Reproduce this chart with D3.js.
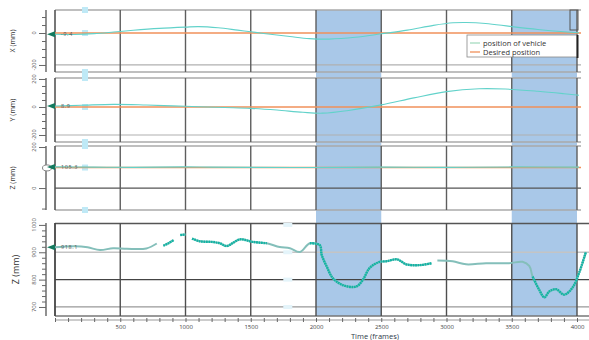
<!DOCTYPE html>
<html>
<head>
<meta charset="utf-8">
<script src="https://cdn.jsdelivr.net/npm/d3@7"></script>
<style>
body { margin: 0; background: #fff; }
svg text { font-family: 'Open Sans', 'Noto Sans', sans-serif; }
</style>
</head>
<body>
<div id="chart"></div>
<script>
// ---- data (frames on x, mm on y) ----
const xGridFrames = [500, 1000, 1500, 2000, 2500, 3000, 3500, 4000]
const xTickLabels = ['500', '1000', '1500', '2000', '2500', '3000', '3500', '4000']
const shadedBands = [[2000, 2500], [3500, 4000]]

const xPosFrames = [0, 150, 300, 450, 600, 800, 1000, 1100, 1250, 1400, 1500, 1650, 1800, 1950, 2100, 2300, 2500, 2700, 2900, 3050, 3150, 3300, 3500, 3700, 3900, 4015]
const xPosValues = [-8, -9, -4, 6, 17, 29, 37, 40, 33, 18, 8, -8, -22, -35, -38, -27, -5, 18, 48, 64, 66, 60, 40, 22, 8, 2]
const xDesired = 0

const yPosFrames = [0, 200, 450, 700, 900, 1100, 1300, 1500, 1700, 1900, 2050, 2250, 2500, 2750, 3000, 3250, 3450, 3700, 3900, 4015]
const yPosValues = [7, 12, 19, 14, 8, 2, -4, -10, -22, -38, -44, -25, 15, 65, 110, 130, 128, 112, 95, 84]
const yDesired = 0

const zPosFrames = [0, 300, 600, 1000, 1200, 1500, 2000, 2500, 3000, 3500, 4015]
const zPosValues = [103, 102, 101, 103, 102, 101, 100, 102, 101, 103, 102]
const zDesired = 100

const zFullFrames = [0, 60, 150, 250, 345, 445, 550, 700, 780, 805,
    830, 870, 910, 935, 960, 1000, 1025,
    1050, 1110, 1200, 1263, 1316, 1416, 1516, 1623, 1722, 1800, 1876, 1953, 2029, 2044, 2082, 2128, 2205, 2310, 2360, 2410, 2487, 2540, 2622, 2691, 2793, 2885, 2908,
    2930, 3047, 3150, 3303, 3480, 3583, 3634, 3660, 3710, 3750, 3788, 3840, 3902, 3966, 4017, 4068]
const zFullValues = [918, 920, 922, 918, 908, 915, 913, 914, 932, null,
    924, 933, 945, null, 963, 965, null,
    950, 940, 938, 933, 923, 947, 938, 933, 919, 915, 901, 933, 926, 890, 848, 806, 780, 775, 800, 842, 865, 867, 874, 856, 853, 860, null,
    870, 867, 856, 860, 860, 865, 850, 811, 763, 735, 757, 765, 745, 771, 826, 901]
const zDenseRanges = [[780, 1000], [1050, 1650], [1950, 2540], [2560, 2890], [3640, 4068]]

const startLabels = ['-9.4', '8.9', '105.3', '918.1']
const legendLabels = ['position of vehicle', 'Desired position']

// ---- layout ----
const width = 589, height = 340
const plotLeft = 55, axisX = 46
const vehicleColor = '#62d2ca', desiredColor = '#f0905a'

const svg = d3.select('#chart').append('svg').attr('width', width).attr('height', height)

const xTop = d3.scaleLinear().domain([0, 4000]).range([plotLeft, 577])
const topRight = 581, bottomRight = 589

const panels = [
    { title: 'X (mm)', top: 10, bottom: 72, domain: [-244, 144], minor: d3.range(-200, 101, 50), major: [0, -200], labels: ['0', '-200'],
      grid: [{ v: -200, c: '#b0b0b0' }], frames: xPosFrames, values: xPosValues, desired: xDesired },
    { title: 'Y (mm)', top: 78, bottom: 142, domain: [-250, 207], minor: d3.range(-200, 201, 50), major: [200, 0, -200], labels: ['200', '0', '-200'],
      grid: [{ v: -200, c: '#b0b0b0' }], frames: yPosFrames, values: yPosValues, desired: yDesired },
    { title: 'Z (mm)', top: 146, bottom: 210, domain: [-107, 205], minor: [200, 100, 0, -100], major: [200, 0], labels: ['200', '0'],
      grid: [{ v: 0, c: '#555' }], frames: zPosFrames, values: zPosValues, desired: zDesired, circle: true },
]

function drawLine(x1, x2, y1, y2, color, w) {
    svg.append('line').attr('x1', x1).attr('x2', x2).attr('y1', y1).attr('y2', y2)
        .style('stroke', color).style('stroke-width', w)
}

// blue shaded frame ranges behind everything
for (let b of shadedBands) {
    svg.append('rect').attr('x', xTop(b[0])).attr('y', 10)
        .attr('width', xTop(b[1]) - xTop(b[0])).attr('height', 306)
        .style('fill', '#a9c8e8')
}

function drawYAxis(y, p, fontSize) {
    const g = svg.append('g').attr('transform', 'translate(' + axisX + ',0)')
    g.call(d3.axisLeft(y).tickValues(p.minor).tickSize(4).tickFormat(''))
    g.select('.domain').attr('d', 'M0,' + p.top + 'V' + p.bottom).style('stroke', '#555').style('stroke-width', 1.3)
    g.selectAll('.tick line').style('stroke', '#666')
    g.selectAll('.tick').filter(d => p.major.includes(d)).select('line').attr('x2', -7)
    p.major.forEach((v, i) => {
        g.append('text').attr('transform', 'translate(-10,' + y(v) + ') rotate(-90)')
            .attr('text-anchor', 'middle').attr('font-size', fontSize).style('fill', '#555').text(p.labels[i])
    })
    svg.append('text').attr('transform', 'translate(' + p.titleX + ',' + (p.top + p.bottom) / 2 + ') rotate(-90)')
        .attr('text-anchor', 'middle').attr('font-size', p.titleSize).style('fill', '#333').text(p.title)
}

function drawStartMarker(y, v, label, circle) {
    if (circle) {
        svg.append('ellipse').attr('cx', axisX + 1).attr('cy', y(v) + 1).attr('rx', 4.5).attr('ry', 3)
            .style('fill', '#fff').style('stroke', '#888')
    }
    svg.append('path').attr('d', 'M' + (axisX + 1) + ',' + y(v) + 'L' + plotLeft + ',' + (y(v) - 3) + 'L' + plotLeft + ',' + (y(v) + 3) + 'Z')
        .style('fill', '#137a5e')
    svg.append('text').attr('x', plotLeft + 6).attr('y', y(v) + 2).attr('font-size', 5.5)
        .style('fill', '#555').style('letter-spacing', '0.6px').text(label)
}

// ---- top three panels ----
panels.forEach((p, i) => {
    const y = d3.scaleLinear().domain(p.domain).range([p.bottom, p.top])
    drawLine(plotLeft, topRight, p.top, p.top, '#aaa', 1.5)
    drawLine(plotLeft, topRight, p.bottom, p.bottom, '#aaa', 1.5)
    for (let gl of p.grid) drawLine(plotLeft, topRight, y(gl.v), y(gl.v), gl.c, 1.2)
    for (let f of xGridFrames) drawLine(xTop(f), xTop(f), p.top, p.bottom, '#5e5e5e', 1.4)
    drawLine(plotLeft, plotLeft, p.top, p.bottom, '#555', 1.6)

    // light cursor marks at frame 230
    const cx = xTop(230)
    for (let yy of [p.top, y(p.desired), p.bottom]) {
        svg.append('rect').attr('x', cx - 3).attr('y', yy - 3).attr('width', 6).attr('height', 6).style('fill', '#bfe9f6')
    }

    svg.append('line').attr('x1', plotLeft).attr('x2', topRight).attr('y1', y(p.desired)).attr('y2', y(p.desired))
        .style('stroke', desiredColor).style('stroke-width', 1.4)

    const pts = p.frames.map((f, k) => [f, p.values[k]])
    const line = d3.line().x(d => xTop(d[0])).y(d => y(d[1])).curve(d3.curveCatmullRom)
    svg.append('path').attr('d', line(pts)).style('fill', 'none').style('stroke', vehicleColor).style('stroke-width', 1.1)

    p.titleX = 15
    p.titleSize = 7
    drawYAxis(y, p, 5.5)
    drawStartMarker(y, p.values[0], startLabels[i], p.circle)
})

// ---- bottom panel: full Z ----
const bottomPanel = { title: 'Z (mm)', top: 223, bottom: 316, domain: [667, 1007], minor: d3.range(700, 1001, 20), major: [1000, 900, 800, 700],
    labels: ['1000', '900', '800', '700'], titleX: 19, titleSize: 9 }
const xBottom = d3.scaleLinear().domain([0, 4000]).range([plotLeft, 577])
const yBottom = d3.scaleLinear().domain(bottomPanel.domain).range([bottomPanel.bottom, bottomPanel.top])

drawLine(plotLeft, bottomRight, yBottom(1000) - 1.5, yBottom(1000) - 1.5, '#555', 1.5)
drawLine(plotLeft, bottomRight, yBottom(900), yBottom(900), '#c4c4c4', 1.4)
drawLine(plotLeft, bottomRight, yBottom(800), yBottom(800), '#444', 1.3)
drawLine(plotLeft, bottomRight, yBottom(700), yBottom(700), '#999', 1.2)
drawLine(plotLeft, bottomRight, bottomPanel.bottom, bottomPanel.bottom, '#777', 1.4)
for (let f of xGridFrames) drawLine(xBottom(f), xBottom(f), bottomPanel.top, bottomPanel.bottom, '#4e4e4e', 1.4)
drawLine(plotLeft, plotLeft, bottomPanel.top, bottomPanel.bottom, '#444', 1.8)

// cursor gaps at frame 1780
for (let v of [1000, 900, 800, 700]) {
    svg.append('rect').attr('x', xBottom(1780) - 4).attr('y', yBottom(v) - 2).attr('width', 9).attr('height', 4).style('fill', '#e4f4fa')
}

const zPts = zFullFrames.map((f, k) => ({ f: f, v: zFullValues[k] }))
const inDense = f => zDenseRanges.some(r => f >= r[0] && f <= r[1])
const zLine = d3.line().defined(d => d.v != null).x(d => xBottom(d.f)).y(d => yBottom(d.v)).curve(d3.curveCatmullRom)
svg.append('path').attr('d', zLine(zPts)).style('fill', 'none').style('stroke', '#84bfba').style('stroke-width', 2)
const zDense = d3.line().defined(d => d.v != null && inDense(d.f)).x(d => xBottom(d.f)).y(d => yBottom(d.v)).curve(d3.curveCatmullRom)
svg.append('path').attr('d', zDense(zPts)).style('fill', 'none').style('stroke', '#12b4a4')
    .style('stroke-width', 2.4).style('stroke-dasharray', '1.8 0.6')

drawYAxis(yBottom, bottomPanel, 6)
drawStartMarker(yBottom, zFullValues[0], startLabels[3], false)

// ---- x axis ----
const xAxisG = svg.append('g').attr('transform', 'translate(0,320)')
xAxisG.call(d3.axisBottom(xBottom).tickValues(d3.range(0, 4001, 100)).tickSize(2).tickPadding(2.5)
    .tickFormat(d => (d > 0 && d % 500 === 0) ? xTickLabels[d / 500 - 1] : ''))
xAxisG.select('.domain').attr('d', 'M' + plotLeft + ',0H' + bottomRight).style('stroke', '#999')
xAxisG.selectAll('.tick line').attr('y1', -2).style('stroke', '#666')
xAxisG.selectAll('.tick text').attr('font-size', 6).style('fill', '#444')
svg.append('text').attr('x', 375).attr('y', 338.5).attr('text-anchor', 'middle').attr('font-size', 7.5)
    .style('fill', '#2e3a4a').text('Time (frames)')

// ---- legend ----
svg.append('rect').attr('x', 570).attr('y', 10).attr('width', 8).attr('height', 20)
    .style('fill', 'none').style('stroke', '#555').style('stroke-width', 1)
svg.append('rect').attr('x', 467).attr('y', 35).attr('width', 110).attr('height', 22)
    .style('fill', '#fff').style('stroke', '#888').style('stroke-width', 0.8)
drawLine(577.5, 577.5, 35, 58, '#222', 2)
const legendColors = ['#a6dcc0', desiredColor]
legendLabels.forEach((t, i) => {
    const ly = 43 + i * 9
    drawLine(470, 480, ly, ly, legendColors[i], 1.3)
    svg.append('text').attr('x', 483).attr('y', ly + 2.5).attr('font-size', 7.5).style('fill', '#333').text(t)
})
</script>
</body>
</html>
